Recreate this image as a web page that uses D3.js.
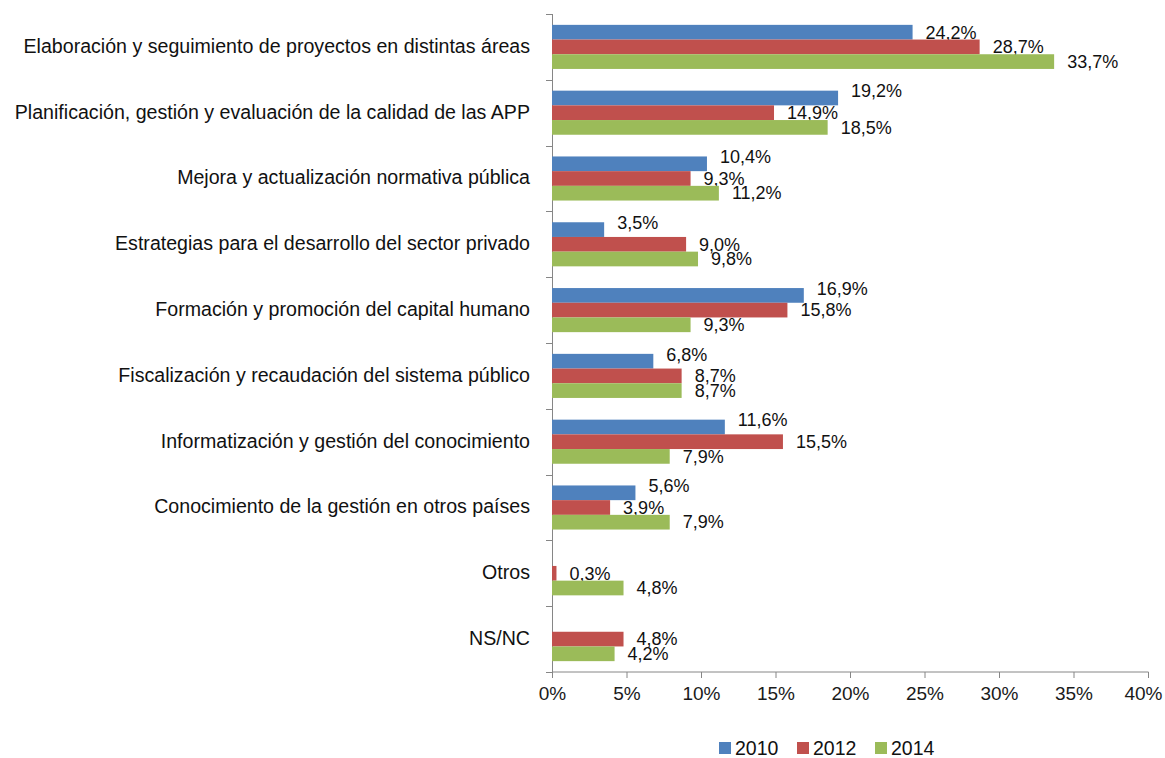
<!DOCTYPE html>
<html>
<head>
<meta charset="utf-8">
<script src="https://cdn.jsdelivr.net/npm/d3@7"></script>
<style>
  body { margin: 0; background: #fff; }
  svg { display: block; font-family: "Liberation Sans Narrow", "Arial Narrow", "Liberation Sans", sans-serif; }
  .axis path, .axis line { stroke: #868686; }
  .axis text { fill: #1a1a1a; font-size: 19px; }
</style>
</head>
<body>
<div id="chart"></div>
<script>
// categories, top to bottom
var categories = [
  "Elaboración y seguimiento de proyectos en distintas áreas",
  "Planificación, gestión y evaluación de la calidad de las APP",
  "Mejora y actualización normativa pública",
  "Estrategias para el desarrollo del sector privado",
  "Formación y promoción del capital humano",
  "Fiscalización y recaudación del sistema público",
  "Informatización y gestión del conocimiento",
  "Conocimiento de la gestión en otros países",
  "Otros",
  "NS/NC"
];
var seriesNames = ["2010", "2012", "2014"];
var values2010 = [24.2, 19.2, 10.4, 3.5, 16.9, 6.8, 11.6, 5.6, null, null];
var values2012 = [28.7, 14.9, 9.3, 9.0, 15.8, 8.7, 15.5, 3.9, 0.3, 4.8];
var values2014 = [33.7, 18.5, 11.2, 9.8, 9.3, 8.7, 7.9, 7.9, 4.8, 4.2];
var xTicks = [0, 5, 10, 15, 20, 25, 30, 35, 40];
var colors = ["#4F81BD", "#C0504D", "#9BBB59"];

var allValues = [values2010, values2012, values2014];

var margin = {top: 14, right: 17, bottom: 86, left: 552},
    width = 1165 - margin.left - margin.right,
    height = 758 - margin.top - margin.bottom;

var svg = d3.select("#chart").append("svg")
    .attr("width", 1165)
    .attr("height", 758)
  .append("g")
    .attr("transform", "translate(" + margin.left + "," + margin.top + ")");

var x = d3.scaleLinear().domain([0, 40]).range([0, width]);

var y = d3.scaleBand()
    .domain(categories)
    .range([0, height])
    .paddingInner(0.33)
    .paddingOuter(0.165);

var ySub = d3.scaleBand()
    .domain(seriesNames)
    .range([0, y.bandwidth()]);

var step = height / categories.length;

// x axis
var xAxis = svg.append("g")
    .attr("class", "axis axis--x")
    .attr("transform", "translate(0," + height + ")")
    .call(d3.axisBottom(x).tickValues(xTicks).tickSize(6).tickPadding(9)
      .tickFormat(function(d) { return d + "%"; }));
xAxis.select(".domain").attr("d", "M0.5,0H" + (width + 0.5));
// keep last tick label inside the page
xAxis.selectAll(".tick text").filter(function(d) { return d === 40; })
    .attr("text-anchor", "end").attr("dx", 14);

// y axis line + ticks at category boundaries
var yAxis = svg.append("g").attr("class", "axis axis--y");
yAxis.append("line")
    .attr("x1", 0.5).attr("x2", 0.5)
    .attr("y1", 0).attr("y2", height);
yAxis.selectAll(".tk")
    .data(d3.range(categories.length + 1))
  .enter().append("line")
    .attr("class", "tk")
    .attr("x1", -6).attr("x2", 0.5)
    .attr("y1", function(i) { return Math.round(i * step) + 0.5; })
    .attr("y2", function(i) { return Math.round(i * step) + 0.5; });

// category labels
svg.selectAll(".cat")
    .data(categories)
  .enter().append("text")
    .attr("class", "cat")
    .attr("x", -22)
    .attr("y", function(d) { return y(d) + y.bandwidth() / 2 - 1; })
    .attr("text-anchor", "end")
    .attr("dy", "0.35em")
    .style("font-size", "19.6px")
    .style("fill", "#111")
    .text(function(d) { return d; });

// bars
seriesNames.forEach(function(s, si) {
  var data = categories.map(function(c, i) { return {cat: c, v: allValues[si][i]}; })
    .filter(function(d) { return d.v != null; });

  svg.selectAll(".bar-" + s)
      .data(data)
    .enter().append("rect")
      .attr("class", "bar-" + s)
      .attr("x", 0)
      .attr("y", function(d) { return y(d.cat) + ySub(s); })
      .attr("width", function(d) { return x(d.v); })
      .attr("height", ySub.bandwidth())
      .attr("fill", colors[si]);

  svg.selectAll(".lbl-" + s)
      .data(data)
    .enter().append("text")
      .attr("class", "lbl-" + s)
      .attr("x", function(d) { return x(d.v) + 13; })
      .attr("y", function(d) {
        var yy = y(d.cat) + ySub(s) + ySub.bandwidth() / 2;
        if (si === 0) yy = Math.max(yy - 7, 19);
        return yy;
      })
      .attr("dy", "0.35em")
      .style("font-size", "18px")
      .style("fill", "#111")
      .text(function(d) { return d.v.toFixed(1).replace(".", ",") + "%"; });
});

// legend
var legend = svg.append("g")
    .attr("transform", "translate(" + (719 - margin.left) + "," + (748 - margin.top) + ")");
var legendX = [0, 78, 156];
seriesNames.forEach(function(s, si) {
  var g = legend.append("g").attr("transform", "translate(" + legendX[si] + ",0)");
  g.append("rect")
    .attr("x", 0).attr("y", -6)
    .attr("width", 12).attr("height", 12)
    .attr("fill", colors[si]);
  g.append("text")
    .attr("x", 16).attr("y", 0)
    .attr("dy", "0.35em")
    .style("font-size", "19.5px")
    .style("fill", "#111")
    .text(s);
});
</script>
</body>
</html>
